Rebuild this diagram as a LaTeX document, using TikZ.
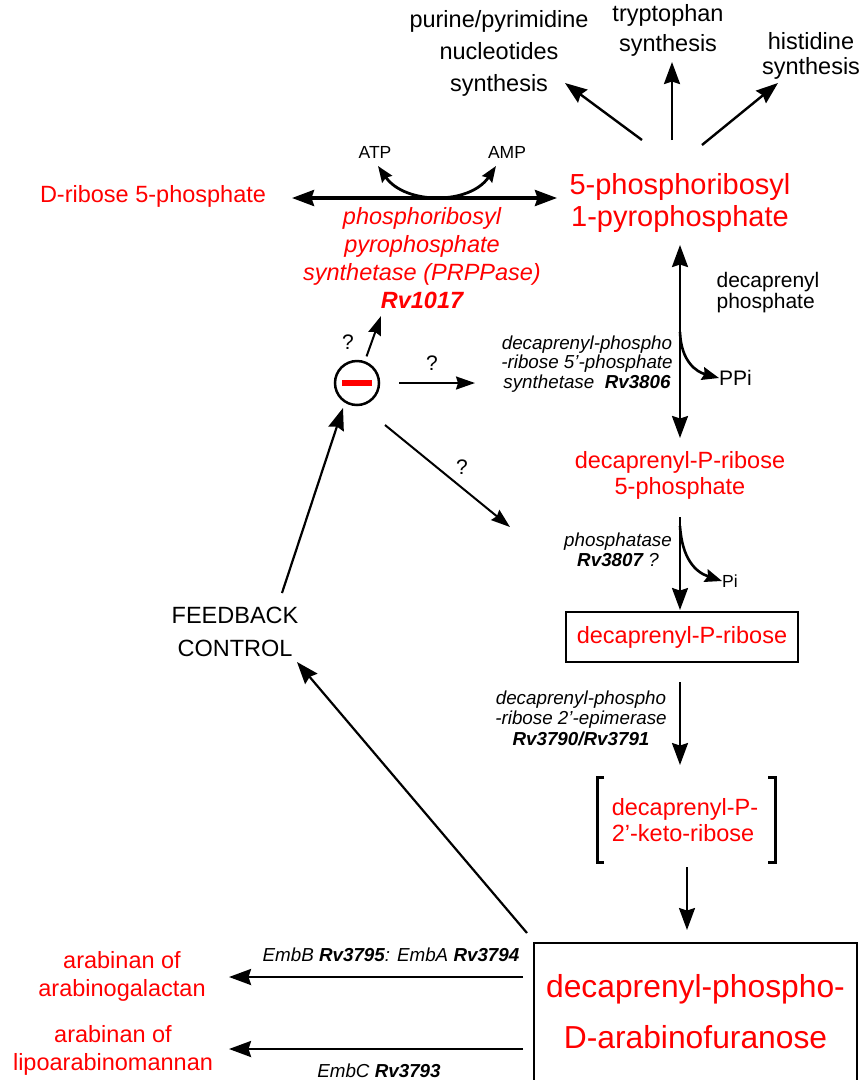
\documentclass[tikz,border=0pt]{standalone}
\usepackage{fontspec}
\setmainfont{Liberation Sans}
\usetikzlibrary{arrows.meta}

\begin{document}
\begin{tikzpicture}[x=1pt, y=-1pt,
  every node/.style={inner sep=0pt},
  arr/.style={line width=2.4pt, -{Stealth[length=22pt, width=16pt, inset=2.5pt]}},
  dbl/.style={line width=2.4pt, {Stealth[length=22pt, width=16pt, inset=2.5pt]}-{Stealth[length=22pt, width=16pt, inset=2.5pt]}},
  sarr/.style={line width=2.6pt, -{Stealth[length=17pt, width=13pt, inset=2pt]}},
  qarr/.style={line width=2pt, -{Stealth[length=19pt, width=13pt, inset=2pt]}},
  mol/.style={text=red, align=center, font=\fontsize{23.5}{26}\selectfont},
  txt/.style={align=center, font=\fontsize{23.5}{32}\selectfont},
  enz/.style={align=center, font=\fontsize{18.8}{20}\selectfont\itshape},
  small/.style={font=\fontsize{17.5}{20}\selectfont},
  qm/.style={font=\fontsize{21}{24}\selectfont},
  brk/.style={line width=3pt},
  ]
  \useasboundingbox (0,0) rectangle (860,1080);

  % arrow ends
  \coordinate (top0) at (642,140);
  \coordinate (top1) at (672,140);
  \coordinate (top2) at (702,145);
  \coordinate (purIn) at (565,83);
  \coordinate (trpIn) at (672,62);
  \coordinate (hisIn) at (778,83);
  \coordinate (hL) at (292,198);
  \coordinate (hR) at (557,198);
  \coordinate (atpIn) at (378,166);
  \coordinate (ampIn) at (496,166);
  \coordinate (v1a) at (680,245);
  \coordinate (v1b) at (680,438);
  \coordinate (v1c) at (680,332);
  \coordinate (v2a) at (680,517);
  \coordinate (v2b) at (680,610);
  \coordinate (v2c) at (680,526);
  \coordinate (v3a) at (680,682);
  \coordinate (v3b) at (680,765);
  \coordinate (v4a) at (687,867);
  \coordinate (v4b) at (687,930);
  \coordinate (q1) at (381,316);
  \coordinate (q2a) at (399,383);
  \coordinate (q2b) at (475,383);
  \coordinate (q3a) at (385,425);
  \coordinate (q3b) at (510,527);
  \coordinate (fbA) at (282,593);
  \coordinate (fbB) at (343,408);
  \coordinate (boxA) at (527,933);
  \coordinate (fbIn) at (297,662);
  \coordinate (agA) at (523,977);
  \coordinate (agB) at (229,977);
  \coordinate (lamA) at (523,1049);
  \coordinate (lamB) at (229,1049);

  % products on top
  \node[txt] (purine) at (499,53) {purine/pyrimidine\\nucleotides\\synthesis};
  \node[txt, font=\fontsize{23.5}{30}\selectfont] (trp) at (668,30) {tryptophan\\synthesis};
  \node[txt, font=\fontsize{23.5}{25}\selectfont] (his) at (811,56) {histidine\\synthesis};

  % PRPP step
  \node[mol] (r5p) at (153,196) {D-ribose 5-phosphate};
  \node[mol, font=\fontsize{29}{32}\selectfont] (prpp) at (680,203) {5-phosphoribosyl\\1-pyrophosphate};
  \node[small] (atp) at (375,152) {ATP};
  \node[small] (amp) at (507,152) {AMP};
  \node[mol, font=\fontsize{23.5}{28}\selectfont\itshape] (prs) at (422,258)
    {phosphoribosyl\\pyrophosphate\\synthetase (PRPPase)\\\textbf{Rv1017}};

  % decaprenyl branch
  \node[align=left, font=\fontsize{21}{21}\selectfont] (dp) at (768,293) {decaprenyl\\phosphate};
  \node[qm, anchor=west] (ppi) at (719,378) {PPi};
  \node[enz, font=\fontsize{18.8}{19.5}\selectfont\itshape] (enz1) at (587,364)
    {decaprenyl-phospho\\-ribose 5'-phosphate\\synthetase\ \ \textbf{Rv3806}};
  \node[mol] (dpr5p) at (680,475) {decaprenyl-P-ribose\\5-phosphate};
  \node[enz] (enz2) at (618,550) {phosphatase\\\textbf{Rv3807} ?};
  \node[small, anchor=west] (pi) at (722,581) {Pi};
  \node[mol, draw=black, line width=2pt, minimum width=232pt, minimum height=50pt] (dpr) at (682,637)
    {decaprenyl-P-ribose};
  \node[enz, font=\fontsize{18.8}{20.5}\selectfont\itshape] (enz3) at (581,718)
    {decaprenyl-phospho\\-ribose 2'-epimerase\\\textbf{Rv3790/Rv3791}};
  \node[mol, align=left] (keto) at (685,820) {decaprenyl-P-\\2'-keto-ribose};
  \node[mol, draw=black, line width=2pt, minimum width=323pt, minimum height=138pt,
    font=\fontsize{31.8}{51}\selectfont] (araf) at (695.5,1012) {decaprenyl-phospho-\\D-arabinofuranose};

  % arabinan
  \node[mol, font=\fontsize{23.5}{28}\selectfont] (ag) at (122,976) {arabinan of\\arabinogalactan};
  \node[mol, font=\fontsize{23.5}{28}\selectfont] (lam) at (113,1050) {arabinan of\\lipoarabinomannan};
  \node[enz] (emb1) at (391,955) {EmbB \textbf{Rv3795}: EmbA \textbf{Rv3794}};
  \node[enz] (emb2) at (379,1071) {EmbC \textbf{Rv3793}};

  % feedback
  \node[txt, font=\fontsize{23.5}{33}\selectfont] (fb) at (235,632) {FEEDBACK\\CONTROL};
  \node[circle, draw, line width=2.5pt, minimum size=44pt] (inh) at (357,383) {};
  \draw[red, line width=6pt] ([xshift=-15pt]inh.center) -- ([xshift=15pt]inh.center);
  \node[qm] (qa) at (348,342) {?};
  \node[qm] (qb) at (432,363) {?};
  \node[qm] (qc) at (462,467) {?};

  % connectors
  \draw[arr] (top0) -- (purIn);
  \draw[arr] (top1) -- (trpIn);
  \draw[arr] (top2) -- (hisIn);
  \draw[dbl, line width=3.5pt] (hL) -- (hR);
  \draw[line width=2.8pt, {Stealth[length=16pt, width=12pt, inset=2pt]}-{Stealth[length=16pt, width=12pt, inset=2pt]}]
    (atpIn) .. controls (405,205) and (470,205) .. (ampIn);
  \draw[dbl] (v1a) -- (v1b);
  \draw[sarr] (v1c) .. controls (681,362) and (697,372) .. (ppi.west);
  \draw[arr] (v2a) -- (v2b);
  \draw[sarr] (v2c) .. controls (682,558) and (695,572) .. (pi.west);
  \draw[arr] (v3a) -- (v3b);
  \draw[brk] (604,777) -| (597,862) -- (604,862);
  \draw[brk] (768,777) -| (775,862) -- (768,862);
  \draw[arr] (v4a) -- (v4b);
  \draw[arr] (agA) -- (agB);
  \draw[arr] (lamA) -- (lamB);
  \draw[arr, line width=2.2pt] (boxA) -- (fbIn);
  \draw[arr, line width=2.2pt] (fbA) -- (fbB);
  \draw[qarr, shorten <=5pt] (inh) -- (q1);
  \draw[qarr] (q2a) -- (q2b);
  \draw[qarr] (q3a) -- (q3b);
\end{tikzpicture}
\end{document}
